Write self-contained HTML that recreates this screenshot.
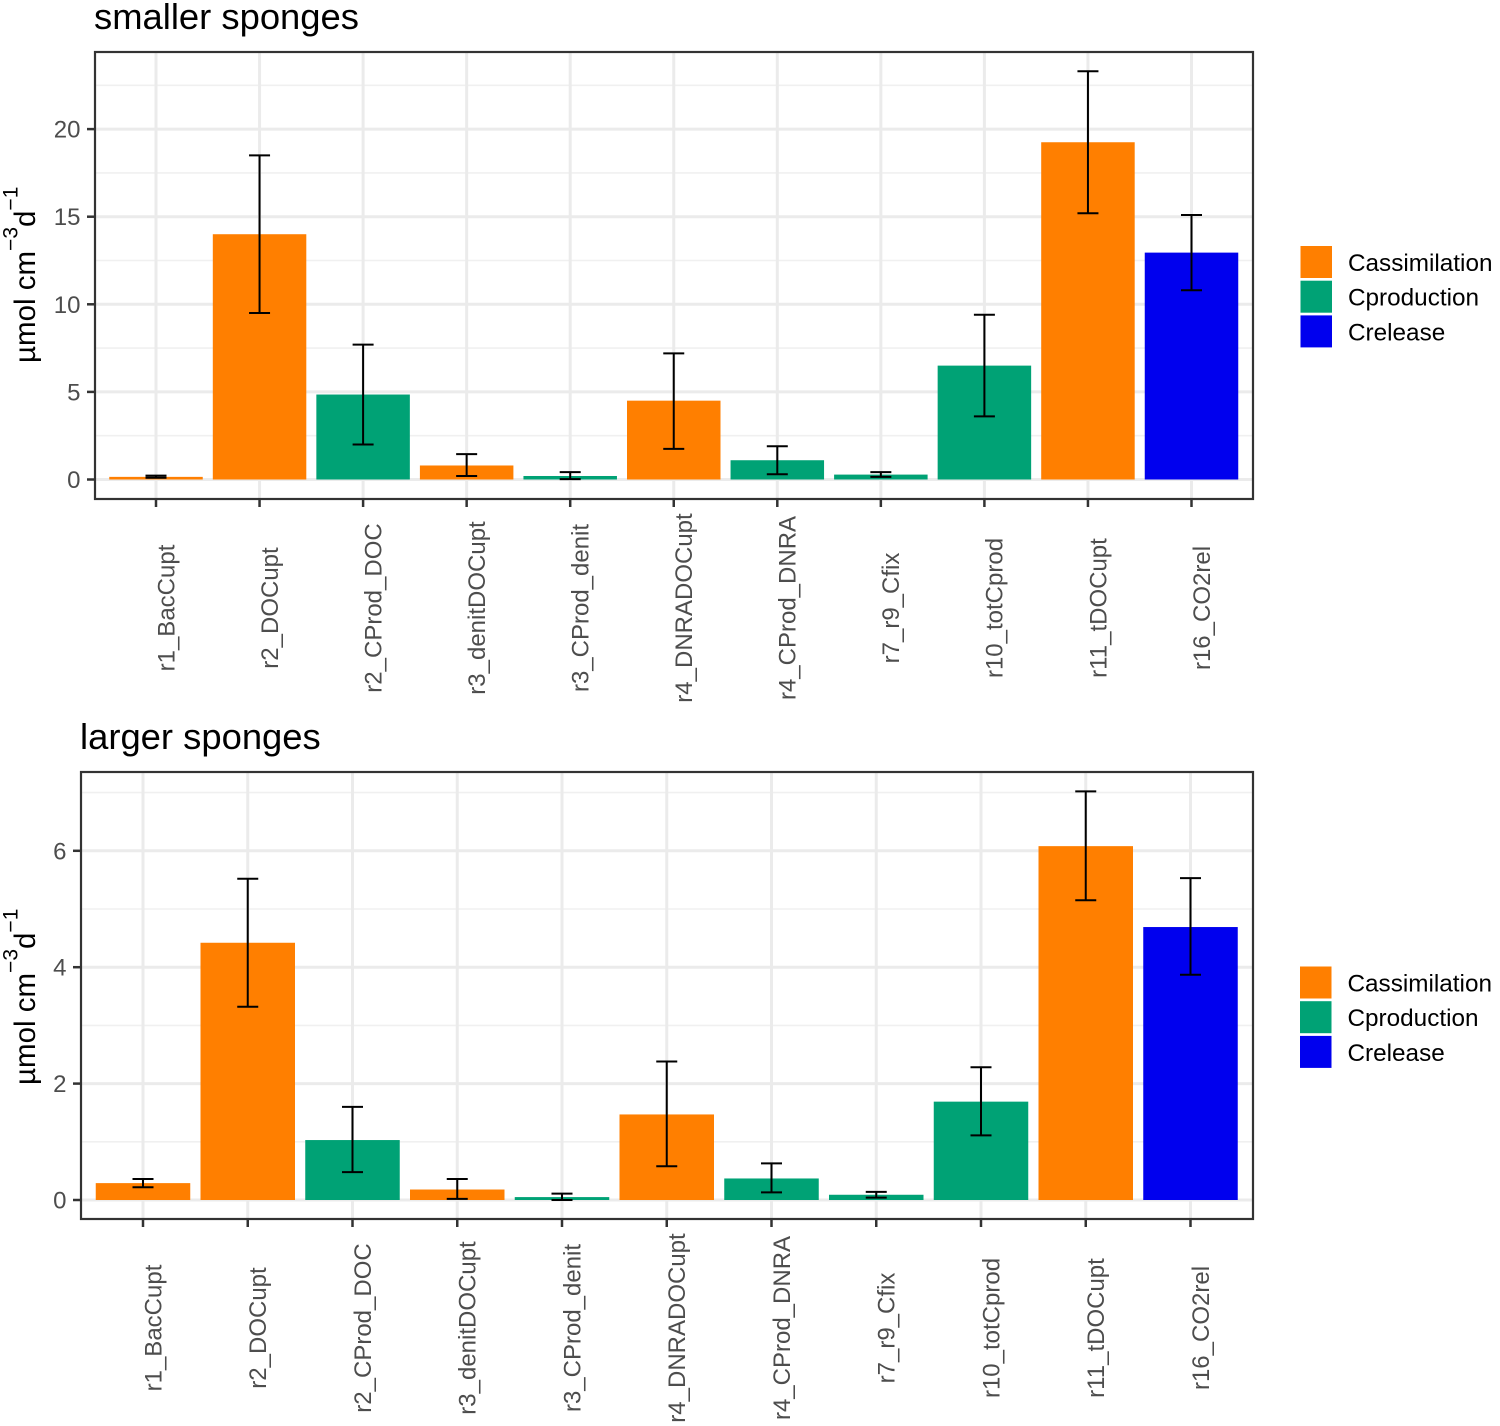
<!DOCTYPE html>
<html lang="en">
<head>
<meta charset="utf-8">
<title>Sponge carbon fluxes</title>
<style>
html,body{margin:0;padding:0;background:#fff;}
svg{display:block;font-family:"Liberation Sans",Arial,sans-serif;}
</style>
</head>
<body>
<svg id="chart" width="1500" height="1426" viewBox="0 0 1500 1426" xmlns="http://www.w3.org/2000/svg"></svg>
<script>
const categories = ["r1_BacCupt","r2_DOCupt","r2_CProd_DOC","r3_denitDOCupt","r3_CProd_denit","r4_DNRADOCupt","r4_CProd_DNRA","r7_r9_Cfix","r10_totCprod","r11_tDOCupt","r16_CO2rel"];
const groups = ["Cassimilation","Cassimilation","Cproduction","Cassimilation","Cproduction","Cassimilation","Cproduction","Cproduction","Cproduction","Cassimilation","Crelease"];
const legendLabels = ["Cassimilation","Cproduction","Crelease"];
const smallerValues = [0.15,14,4.85,0.8,0.2,4.5,1.1,0.28,6.5,19.25,12.95];
const smallerLow = [0.1,9.5,2,0.2,0.02,1.75,0.3,0.15,3.6,15.2,10.8];
const smallerHigh = [0.22,18.5,7.7,1.45,0.42,7.2,1.9,0.42,9.4,23.3,15.1];
const smallerMajorTicks = [0,5,10,15,20];
const smallerMinorTicks = [2.5,7.5,12.5,17.5,22.5];
const largerValues = [0.29,4.42,1.03,0.18,0.05,1.47,0.37,0.09,1.69,6.08,4.69];
const largerLow = [0.22,3.32,0.48,0.02,0,0.58,0.13,0.04,1.11,5.15,3.87];
const largerHigh = [0.36,5.52,1.6,0.36,0.11,2.38,0.63,0.14,2.28,7.02,5.53];
const largerMajorTicks = [0,2,4,6];
const largerMinorTicks = [1,3,5,7];

const colours = {Cassimilation:"#FF7F00",Cproduction:"#00A275",Crelease:"#0000EE"};
const svg = document.getElementById("chart");
const NS = "http://www.w3.org/2000/svg";

function el(tag, attrs, parent, text){
  const e = document.createElementNS(NS, tag);
  for (const k in attrs) e.setAttribute(k, attrs[k]);
  if (text !== undefined) e.textContent = text;
  (parent || svg).appendChild(e);
  return e;
}

function drawPanel(cfg){
  const g = el("g", {}, svg);
  
  
  const yScale = v => cfg.y0 - v * cfg.pxPerUnit;
  const xScale = i => cfg.xFirst + i * cfg.step;

  const title = el("text", {x:cfg.titleX, y:cfg.titleY, "font-size":36.4, fill:"#000"}, g, cfg.title);
  
  

  cfg.minor.forEach(v => {
    const l = el("line", {x1:cfg.left, x2:cfg.right, y1:yScale(v), y2:yScale(v), stroke:"#f0f0f0", "stroke-width":1.6}, g);
    
    
  });
  cfg.major.forEach(v => {
    const l = el("line", {x1:cfg.left, x2:cfg.right, y1:yScale(v), y2:yScale(v), stroke:"#ebebeb", "stroke-width":3}, g);
    
    
  });
  categories.forEach((c, i) => {
    const l = el("line", {x1:xScale(i), x2:xScale(i), y1:cfg.top, y2:cfg.bottom, stroke:"#ebebeb", "stroke-width":3}, g);
    
    
  });

  categories.forEach((c, i) => {
    const x = xScale(i);
    const r = el("rect", {x:x - cfg.barW/2, y:yScale(cfg.values[i]), width:cfg.barW, height:cfg.values[i]*cfg.pxPerUnit, fill:colours[groups[i]]}, g);
    
    
  });
  categories.forEach((c, i) => {
    const x = xScale(i), yl = yScale(cfg.low[i]), yh = yScale(cfg.high[i]);
    const e = el("path", {d:`M${x-10.5} ${yh}H${x+10.5}M${x} ${yh}V${yl}M${x-10.5} ${yl}H${x+10.5}`, fill:"none", stroke:"#000", "stroke-width":2}, g);
    
    
  });

  const border = el("rect", {x:cfg.left, y:cfg.top, width:cfg.right-cfg.left, height:cfg.bottom-cfg.top, fill:"none", stroke:"#333", "stroke-width":2.2}, g);
  
  

  cfg.major.forEach(v => {
    const y = yScale(v);
    const t = el("line", {x1:cfg.left-8, x2:cfg.left, y1:y, y2:y, stroke:"#333", "stroke-width":2.5}, g);
    
    
    const lab = el("text", {x:cfg.left-14.5, y:y+8.5, "text-anchor":"end", "font-size":24, fill:"#4d4d4d"}, g, String(v));
    
    
  });
  categories.forEach((c, i) => {
    const x = xScale(i);
    const t = el("line", {x1:x, x2:x, y1:cfg.bottom, y2:cfg.bottom+8, stroke:"#333", "stroke-width":2.5}, g);
    
    
    const lab = el("text", {transform:`translate(${x+18.3} ${cfg.labelCy}) rotate(-90)`, "text-anchor":"middle", "font-size":24, fill:"#4d4d4d"}, g, c);
    
    
  });

  const yt = el("text", {transform:`translate(35 ${cfg.yTitleBottom}) rotate(-90)`, "font-size":29.5, fill:"#000"}, g);
  
  
  el("tspan", {}, yt, "\u00B5mol cm");
  el("tspan", {"font-size":21, dy:-17.5}, yt, "\u22123");
  el("tspan", {"font-size":29.5, dy:17.5}, yt, "d");
  el("tspan", {"font-size":21, dy:-17.5}, yt, "\u22121");

  const lg = el("g", {}, g);
  
  
  legendLabels.forEach((name, i) => {
    const ky = cfg.legendTop + i * 34.7;
    const k = el("rect", {x:cfg.legendX, y:ky, width:31.5, height:32, fill:colours[name]}, lg);
    
    
    const t = el("text", {x:cfg.legendX+47.5, y:ky+25, "font-size":24.3, fill:"#000"}, lg, name);
    
    
  });
}

drawPanel({name:"smaller-sponges", title:"smaller sponges", titleX:94, titleY:29,
  left:95, right:1253, top:52, bottom:499, y0:479.5, pxPerUnit:17.52,
  xFirst:156, step:103.55, barW:93.5, values:smallerValues, low:smallerLow, high:smallerHigh,
  major:smallerMajorTicks, minor:smallerMinorTicks, labelCy:608, yTitleBottom:363,
  legendX:1300.5, legendTop:246});

drawPanel({name:"larger-sponges", title:"larger sponges", titleX:80, titleY:749,
  left:81, right:1253, top:772, bottom:1219, y0:1200, pxPerUnit:58.2,
  xFirst:143, step:104.75, barW:94.5, values:largerValues, low:largerLow, high:largerHigh,
  major:largerMajorTicks, minor:largerMinorTicks, labelCy:1328, yTitleBottom:1085,
  legendX:1300, legendTop:966.5});
</script>
</body>
</html>
